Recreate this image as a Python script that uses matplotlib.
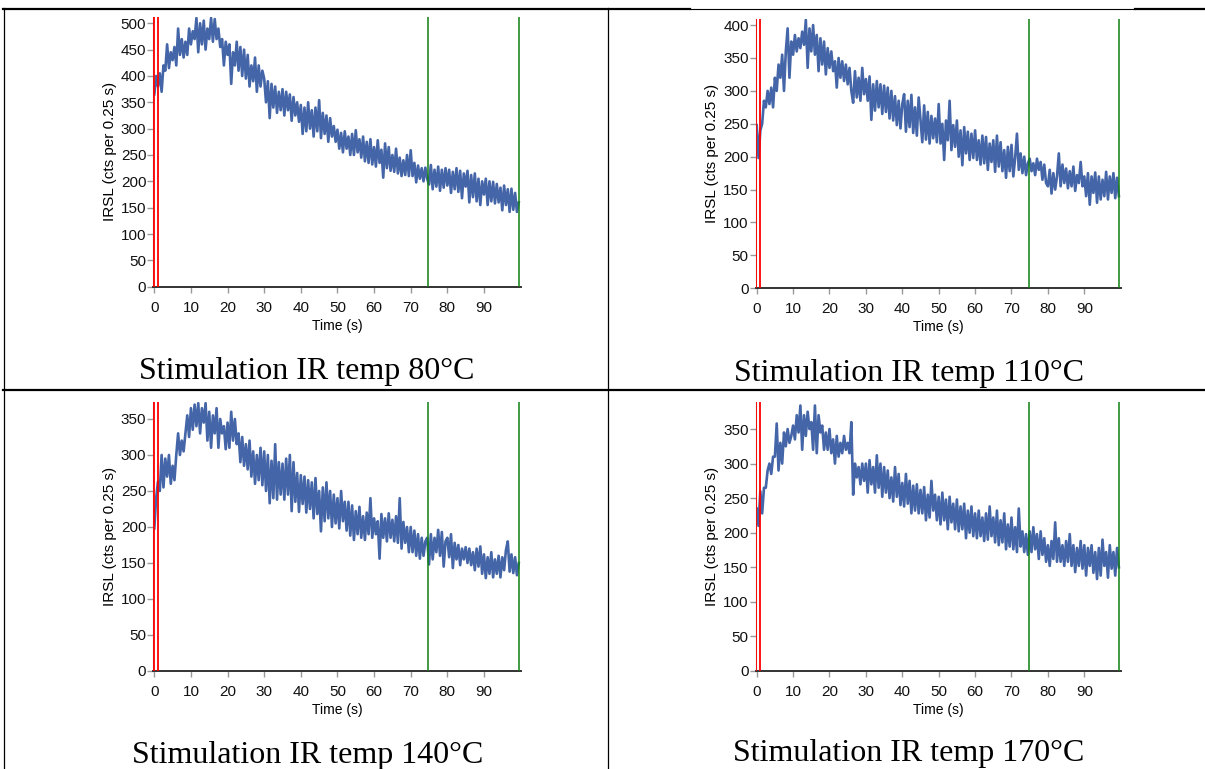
import numpy as np
import matplotlib
matplotlib.use('Agg')
import matplotlib.pyplot as plt

plt.rcParams['font.family'] = 'Liberation Sans'

# time axis, one reading every 0.5 s
time_s = np.arange(200) * 0.5

irsl_80 = [
    365, 400, 380, 405, 370, 420, 410, 460, 415, 445,
    430, 455, 420, 490, 440, 470, 435, 465, 440, 490,
    460, 485, 470, 510, 445, 500, 460, 505, 450, 490,
    470, 510, 465, 508, 470, 490, 455, 470, 420, 465,
    440, 460, 385, 445, 420, 465, 410, 455, 400, 450,
    395, 440, 380, 420, 390, 435, 370, 420, 380, 410,
    395, 350, 390, 320, 385, 340, 380, 330, 370, 335,
    375, 325, 370, 335, 365, 315, 360, 325, 350, 313,
    345, 290, 340, 295, 350, 300, 335, 285, 340, 295,
    354, 282, 330, 290, 325, 275, 320, 285, 305, 275,
    298, 262, 292, 255, 295, 262, 285, 250, 290, 250,
    297, 255, 280, 245, 285, 238, 275, 235, 280, 232,
    265, 228, 278, 235, 260, 207, 272, 225, 265, 220,
    250, 218, 262, 215, 245, 210, 240, 212, 250, 210,
    259, 210, 235, 198, 230, 205, 225, 200, 226, 205,
    194, 231, 185, 222, 190, 228, 182, 222, 188, 225,
    192, 222, 178, 218, 185, 225, 180, 220, 168, 215,
    190, 220, 160, 212, 170, 215, 162, 205, 155, 200,
    175, 205, 155, 200, 162, 199, 158, 195, 160, 188,
    145, 192, 155, 185, 142, 186, 146, 178, 142, 160,
]

irsl_110 = [
    248, 198, 240, 250, 285, 275, 300, 280, 305, 275,
    320, 300, 340, 320, 355, 300, 360, 395, 320, 375,
    355, 385, 360, 380, 365, 390, 370, 408, 335, 395,
    360, 400, 355, 385, 330, 380, 340, 375, 325, 365,
    335, 360, 330, 345, 305, 350, 320, 345, 315, 340,
    310, 335, 300, 282, 330, 290, 320, 285, 335, 295,
    318, 285, 322, 256, 310, 270, 315, 275, 310, 265,
    308, 268, 305, 258, 300, 255, 292, 248, 285, 243,
    280, 295, 238, 285, 245, 294, 236, 275, 232, 290,
    255, 222, 278, 226, 268, 220, 262, 228, 258, 222,
    280, 220, 250, 195, 255, 225, 285, 210, 248, 215,
    255, 200, 240, 187, 245, 205, 238, 195, 235, 198,
    240, 195, 225, 188, 232, 190, 230, 180, 220, 192,
    225, 177, 232, 185, 222, 178, 210, 168, 215, 178,
    218, 170, 198, 235, 180, 205, 175, 200, 172, 190,
    197, 178, 190, 172, 197, 180, 192, 165, 188, 160,
    155, 180, 144, 175, 150, 170, 205, 155, 188, 160,
    182, 152, 178, 155, 185, 148, 172, 160, 192, 155,
    170, 140, 175, 127, 170, 145, 176, 130, 170, 135,
    165, 140, 177, 135, 170, 145, 175, 137, 168, 140,
]

irsl_140 = [
    198, 240, 263, 250, 300, 255, 295, 270, 300, 260,
    285, 265, 300, 330, 300, 320, 305, 330, 355, 325,
    365, 335, 370, 340, 372, 330, 365, 345, 372, 320,
    360, 310, 355, 330, 365, 310, 350, 330, 340, 308,
    345, 310, 360, 320, 350, 315, 330, 290, 325, 285,
    315, 280, 320, 270, 305, 260, 300, 265, 310, 258,
    305, 250, 300, 233, 292, 240, 315, 238, 290, 245,
    288, 238, 295, 245, 300, 222, 290, 235, 275, 221,
    272, 232, 270, 220, 265, 225, 262, 212, 268, 218,
    250, 194, 255, 208, 262, 212, 250, 200, 245, 205,
    240, 198, 250, 208, 235, 195, 235, 188, 230, 182,
    222, 190, 228, 185, 215, 182, 220, 190, 240, 185,
    212, 190, 208, 156, 218, 185, 212, 180, 219, 185,
    210, 180, 215, 178, 240, 170, 207, 178, 200, 165,
    200, 165, 195, 160, 190, 156, 185, 160, 180, 185,
    148, 190, 155, 185, 165, 196, 160, 193, 145, 180,
    185, 158, 190, 143, 178, 155, 175, 147, 170, 155,
    172, 150, 170, 147, 165, 140, 170, 145, 173, 135,
    162, 129, 158, 135, 165, 130, 155, 135, 160, 130,
    158, 140, 168, 180, 138, 162, 136, 158, 133, 150,
]

irsl_170 = [
    235, 210, 260, 228, 265, 265, 290, 300, 285, 310,
    310, 358, 290, 330, 300, 345, 325, 350, 330, 340,
    355, 335, 370, 345, 384, 320, 370, 340, 375, 350,
    360, 320, 384, 315, 370, 345, 355, 320, 345, 320,
    350, 315, 335, 300, 340, 310, 330, 315, 340, 320,
    330, 315, 360, 255, 300, 280, 295, 270, 300, 275,
    300, 258, 305, 270, 295, 258, 312, 265, 300, 252,
    295, 258, 290, 250, 280, 245, 295, 252, 285, 240,
    272, 238, 285, 242, 275, 228, 268, 232, 270, 228,
    262, 228, 266, 218, 255, 222, 275, 232, 255, 218,
    252, 212, 258, 218, 248, 205, 252, 215, 242, 205,
    248, 202, 238, 205, 242, 192, 232, 200, 238, 195,
    228, 192, 232, 195, 222, 188, 228, 190, 238, 195,
    222, 186, 232, 182, 218, 186, 228, 176, 212, 180,
    222, 176, 208, 172, 235, 180, 202, 172, 198, 168,
    202, 172, 208, 176, 198, 162, 202, 168, 192, 158,
    182, 152, 188, 162, 215, 158, 192, 158, 182, 152,
    188, 158, 198, 152, 182, 143, 178, 152, 188, 148,
    182, 138, 178, 152, 182, 142, 172, 133, 178, 138,
    190, 152, 172, 135, 182, 148, 172, 138, 178, 150,
]

captions = ['Stimulation IR temp 80°C', 'Stimulation IR temp 110°C',
            'Stimulation IR temp 140°C', 'Stimulation IR temp 170°C']
series = [irsl_80, irsl_110, irsl_140, irsl_170]
y_tops = [512.5, 408.8, 374, 389.5]
red_marks = [-0.2, 1.0]
green_marks = [74.7, 99.6]

W, H = 1205, 769
fig = plt.figure(figsize=(W / 100, H / 100), dpi=100)

# table frame drawn in pixel coordinates
bg = fig.add_axes([0, 0, 1, 1])
bg.set_xlim(0, W)
bg.set_ylim(H, 0)
bg.axis('off')
bg.plot([3, 690], [8.5, 8.5], color='black', lw=1.6)
bg.plot([690, 1135], [8.5, 8.5], color='black', lw=0.8)
bg.plot([1135, W], [8.5, 8.5], color='black', lw=1.6)
bg.plot([3.5, 3.5], [8, H], color='black', lw=0.9)
bg.plot([608, 608], [8, H], color='black', lw=0.9)
bg.plot([3, W], [390, 390], color='black', lw=1.6)

caption_pos = [(307, 372), (909, 374), (308, 755), (909, 753)]
for txt, (cx, cy) in zip(captions, caption_pos):
    bg.text(cx, cy, txt, ha='center', va='center', fontsize=23,
            family='Liberation Serif', color='black')

# axes boxes: left, right, top, bottom in pixels
boxes = [(153.2, 520.6, 16.7, 286.7), (755.6, 1120.7, 19.3, 288.3),
         (153.2, 520.6, 401.7, 671.0), (755.6, 1120.7, 401.7, 671.0)]

for vals, top, (l, r, t, b) in zip(series, y_tops, boxes):
    ax = fig.add_axes([l / W, 1 - b / H, (r - l) / W, (b - t) / H])
    ax.plot(time_s, vals, color='#4465a7', lw=1.9, zorder=2)
    for xm in red_marks:
        ax.axvline(xm, color='#ff0000', lw=1.3, zorder=3)
    for xm in green_marks:
        ax.axvline(xm, color='#108010', lw=1.1, zorder=3)
    ax.set_xlim(-0.3, 100)
    ax.set_ylim(0, top)
    ax.set_xticks(np.arange(0, 100, 10))
    ax.set_yticks(np.arange(0, top, 50))
    for s in ['top', 'right']:
        ax.spines[s].set_visible(False)
    ax.spines['bottom'].set_color('#333333')
    ax.spines['bottom'].set_linewidth(1.4)
    ax.spines['left'].set_color('#888888')
    ax.tick_params(length=4, width=1, color='#999999', labelsize=11,
                   labelcolor='#111111')
    ax.tick_params(axis='x', pad=6)
    ax.tick_params(axis='y', pad=1)
    ax.set_xlabel('Time (s)', fontsize=10, labelpad=3)
    ax.set_ylabel('IRSL (cts per 0.25 s)', fontsize=11, labelpad=3)
    ax.patch.set_alpha(0)

fig.savefig('out.png', dpi=100)
